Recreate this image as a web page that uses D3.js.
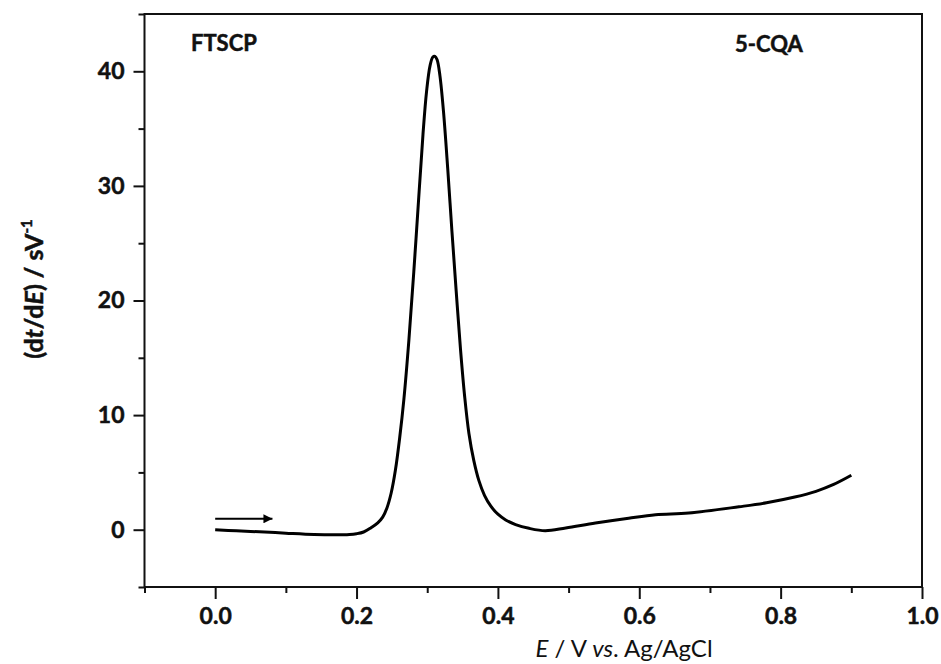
<!DOCTYPE html>
<html><head><meta charset="utf-8">
<script src="https://cdn.jsdelivr.net/npm/d3@7"></script>
<style>body{margin:0;background:#fff}svg{display:block}</style>
</head><body><svg id="c" width="941" height="664"></svg>
<script>
// ---- data ----
const potential = [0, 0.03, 0.07, 0.10, 0.14, 0.17, 0.19, 0.20, 0.21, 0.22, 0.23, 0.237, 0.243, 0.249, 0.255, 0.261, 0.267, 0.274, 0.281, 0.288, 0.294, 0.299, 0.304, 0.308, 0.311, 0.314, 0.318, 0.323, 0.329, 0.335, 0.341, 0.347, 0.353, 0.359, 0.366, 0.373, 0.381, 0.390, 0.400, 0.411, 0.425, 0.444, 0.467, 0.496, 0.538, 0.585, 0.623, 0.670, 0.741, 0.780, 0.820, 0.850, 0.875, 0.900];
const dtdE = [0, -0.1, -0.2, -0.3, -0.42, -0.45, -0.42, -0.35, -0.2, 0.15, 0.6, 1.1, 1.9, 3.2, 5.2, 8.0, 11.4, 16.5, 22.5, 29, 34.5, 38.2, 40.5, 41.25, 41.3, 41.0, 39.6, 36.5, 31.5, 26.0, 20.8, 15.8, 11.6, 8.4, 6.0, 4.3, 3.0, 2.05, 1.35, 0.85, 0.45, 0.12, -0.09, 0.15, 0.58, 1.0, 1.3, 1.45, 2.0, 2.35, 2.85, 3.35, 3.95, 4.75];
const xMajorTicks = [0.0, 0.2, 0.4, 0.6, 0.8, 1.0];
const xMinorTicks = [-0.1, 0.1, 0.3, 0.5, 0.7, 0.9];
const yMajorTicks = [0, 10, 20, 30, 40];
const yMinorTicks = [-5, 5, 15, 25, 35, 45];
const xDomain = [-0.1, 1.0];
const yDomain = [-5, 45];
const arrowE = [0.0, 0.081];
const arrowV = [0.95, 0.95];
const sampleLabel = "FTSCP";
const analyteLabel = "5-CQA";

// ---- layout ----
const L = 144.5, R = 922, T = 14, B = 587;
const FONT = "Lato, 'Open Sans', 'Noto Sans', sans-serif";
const svg = d3.select("#c");
const x = d3.scaleLinear().domain(xDomain).range([L, R]);
const y = d3.scaleLinear().domain(yDomain).range([B, T]);

// frame
svg.append("rect").attr("x", L).attr("y", T).attr("width", R - L).attr("height", B - T)
  .attr("fill", "none").attr("stroke", "#111").attr("stroke-width", 2);

function boldText(sel) {
  sel.attr("font-family", FONT).attr("font-weight", "bold").attr("fill", "#111")
     .attr("stroke", "#111").attr("stroke-width", 0.5);
}
function styleAxis(g) {
  g.select(".domain").remove();
  g.selectAll(".tick line").attr("stroke", "#111").attr("stroke-width", 2);
  boldText(g.selectAll(".tick text"));
}

// x axis
const gx = svg.append("g").attr("transform", `translate(0,${B})`)
  .call(d3.axisBottom(x).tickValues(xMajorTicks).tickSize(12).tickPadding(9).tickFormat(d3.format(".1f")));
styleAxis(gx);
gx.selectAll(".tick text").attr("font-size", 23);
const gxm = svg.append("g").attr("transform", `translate(0,${B})`)
  .call(d3.axisBottom(x).tickValues(xMinorTicks).tickSize(6).tickFormat(""));
styleAxis(gxm);

// y axis
const gy = svg.append("g").attr("transform", `translate(${L},0)`)
  .call(d3.axisLeft(y).tickValues(yMajorTicks).tickSize(11).tickPadding(9).tickFormat(d3.format("d")));
styleAxis(gy);
gy.selectAll(".tick text").attr("font-size", 23);
const gym = svg.append("g").attr("transform", `translate(${L},0)`)
  .call(d3.axisLeft(y).tickValues(yMinorTicks).tickSize(6).tickFormat(""));
styleAxis(gym);

// curve
const pts = potential.map((e, i) => [e, dtdE[i]]);
svg.append("path").datum(pts)
  .attr("d", d3.line().x(d => x(d[0])).y(d => y(d[1])).curve(d3.curveCatmullRom.alpha(0.5)))
  .attr("fill", "none").attr("stroke", "#000").attr("stroke-width", 3).attr("stroke-linejoin", "round");

// arrow
svg.append("defs").append("marker").attr("id", "ah").attr("viewBox", "0 0 10 10")
  .attr("refX", 10).attr("refY", 5).attr("markerWidth", 18).attr("markerHeight", 9)
  .attr("markerUnits", "userSpaceOnUse").attr("orient", "auto")
  .append("path").attr("d", "M0,0 L10,5 L0,10 Z").attr("fill", "#000");
svg.append("line").attr("x1", x(arrowE[0])).attr("y1", y(arrowV[0]))
  .attr("x2", x(arrowE[1])).attr("y2", y(arrowV[1]))
  .attr("stroke", "#000").attr("stroke-width", 2).attr("marker-end", "url(#ah)");

// annotations
boldText(svg.append("text").attr("x", 191).attr("y", 51).text(sampleLabel).attr("font-size", 22));
boldText(svg.append("text").attr("x", 735).attr("y", 52).text(analyteLabel).attr("font-size", 22));

// x title
const xt = svg.append("text").attr("x", 624).attr("y", 657).attr("text-anchor", "middle")
  .attr("font-family", FONT).attr("font-size", 24).attr("fill", "#111");
xt.append("tspan").attr("font-style", "italic").text("E");
xt.append("tspan").text(" / V ");
xt.append("tspan").attr("font-style", "italic").text("vs");
xt.append("tspan").text(". Ag/AgCl");

// y title
const yt = svg.append("text").attr("transform", "translate(43,289) rotate(-90)").attr("text-anchor", "middle")
  .attr("font-size", 25);
boldText(yt);
yt.append("tspan").text("(d");
yt.append("tspan").attr("font-style", "italic").text("t");
yt.append("tspan").text("/d");
yt.append("tspan").attr("font-style", "italic").text("E");
yt.append("tspan").text(") / sV");
yt.append("tspan").attr("dy", -11).attr("font-size", 15).text("-1");
</script>
</body></html>
